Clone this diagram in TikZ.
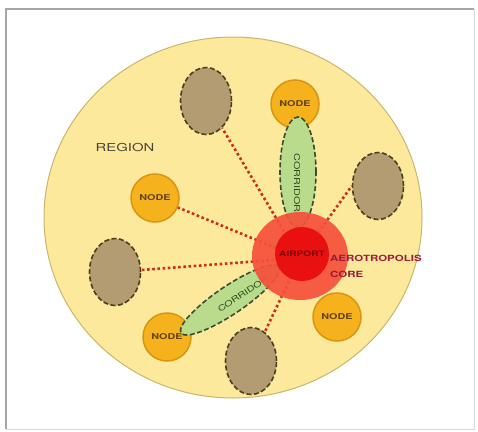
\documentclass[tikz,border=0pt]{standalone}
\usepackage{fontspec}
\newfontfamily\gothic{TeX Gyre Heros}[FakeStretch=1.35]
\usetikzlibrary{shapes.geometric, positioning}

\definecolor{regionfill}{HTML}{FDE99C}
\definecolor{regionline}{HTML}{C9B66A}
\definecolor{regiontext}{HTML}{4A4636}
\definecolor{spokefill}{HTML}{B39B72}
\definecolor{spokeline}{HTML}{4B3F1E}
\definecolor{townfill}{HTML}{F5B21C}
\definecolor{townline}{HTML}{D99410}
\definecolor{towntext}{HTML}{5E4210}
\definecolor{corrfill}{HTML}{B8DC8C}
\definecolor{corrline}{HTML}{3E4A33}
\definecolor{corrtext}{HTML}{2D4A20}
\definecolor{linkred}{HTML}{C8301E}
\definecolor{coreout}{HTML}{F5503A}
\definecolor{corein}{HTML}{E81010}
\definecolor{coretext}{HTML}{7A0C0C}
\definecolor{aerotext}{HTML}{9A1A3A}

\tikzset{
  spoke/.style={ellipse, fill=spokefill, draw=spokeline, line width=1.6pt,
    dash pattern=on 5pt off 2.5pt, minimum width=51, minimum height=67, inner sep=0},
  town/.style={circle, fill=townfill, draw=townline, line width=1.5pt,
    minimum size=48, inner sep=0, text=towntext,
    font=\gothic\bfseries\fontsize{8}{9}\selectfont},
  corridor/.style={ellipse, fill=corrfill, draw=corrline, line width=1.6pt,
    dash pattern=on 5pt off 2.5pt, inner sep=0},
  corrlabel/.style={text=corrtext, inner sep=0, font=\gothic\fontsize{8}{9}\selectfont},
  link/.style={draw=linkred, line width=2.6pt, dash pattern=on 2.6pt off 2.6pt}
}

\begin{document}
\begin{tikzpicture}[x=1pt, y=-1pt]
  \useasboundingbox (0,0) rectangle (478,431);
  % frame
  \draw[gray!30, line width=1pt] (6,9) rectangle (474,429);
  \draw[gray!70, line width=2pt] (6,429) -- (6,9) -- (474,9);

  % region
  \node[ellipse, fill=regionfill, draw=regionline, line width=1pt,
        minimum width=378, minimum height=361, inner sep=0] (region) at (233,217.5) {};
  \node[text=regiontext, font=\gothic\fontsize{11}{12}\selectfont] (rlabel) at (125,147) {REGION};

  % outer places
  \node[spoke] (s1) at (206,101) {};
  \node[spoke] (s2) at (378,186) {};
  \node[spoke] (s3) at (115,272) {};
  \node[spoke] (s4) at (251,361) {};

  \node[town] (n1) at (295,104) {NODE};
  \node[town] (n2) at (155,198) {NODE};
  \node[town] (n3) at (167,337) {NODE};
  \node[town] (n4) at (337,317) {NODE};

  % links to the core
  \coordinate (hub) at (300,258);
  \foreach \s in {s1,s3,s4,n2}
    \draw[link] (hub) -- (\s);
  \draw[link] (hub) -- (s2.west);

  % corridors
  \node[corridor, minimum width=36, minimum height=110] (c1) at (298,172) {};
  \node[corrlabel, rotate=-90] (c1lbl) at (297,183) {CORRIDOR};
  \node[corridor, rotate=34, minimum width=118, minimum height=28] (c2) at (230,300) {};
  \node[corrlabel, rotate=34] (c2lbl) at (243,294) {CORRIDOR};

  % core
  \node[ellipse, fill=coreout, fill opacity=0.92, minimum width=96, minimum height=88,
        inner sep=0] (core) at (300,256) {};
  \node[circle, fill=corein, minimum size=54, inner sep=0, text=coretext,
        font=\gothic\bfseries\fontsize{7.5}{9}\selectfont] (airport) at (302,254) {AIRPORT};
  \node[anchor=west, align=left, text=aerotext, inner sep=0,
        font=\gothic\bfseries\fontsize{8.5}{16}\selectfont] (aero) at (330,266) {AEROTROPOLIS\\CORE};
\end{tikzpicture}
\end{document}
